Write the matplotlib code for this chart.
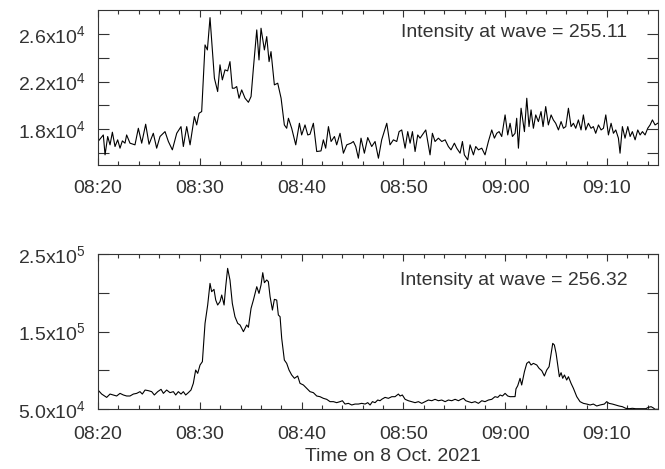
import numpy as np
import matplotlib.pyplot as plt
import matplotlib.dates as mdates
from matplotlib.ticker import FixedLocator, FixedFormatter

plt.rcParams['font.family'] = ['Liberation Sans', 'DejaVu Sans']
plt.rcParams['mathtext.fontset'] = 'custom'
plt.rcParams['mathtext.rm'] = 'Liberation Sans'
plt.rcParams['mathtext.default'] = 'regular'

# minutes after 08:20 UT, 8 Oct 2021
top_min = [0.0, 0.52, 0.69, 0.95, 1.18, 1.41, 1.67, 1.93, 2.16, 2.39, 2.65, 2.81,
           3.14, 3.63, 3.96, 4.29, 4.68, 5.01, 5.43, 5.76, 6.09, 6.58, 6.91, 7.30,
           7.73, 8.15, 8.38, 8.71, 9.04, 9.46, 9.69, 9.92, 10.18, 10.51, 10.74, 11.0,
           11.43, 11.75, 11.98, 12.21, 12.47, 12.73, 12.96, 13.19, 13.39, 13.62, 13.85,
           14.11, 14.44, 14.77, 15.03, 15.26, 15.59, 15.81, 16.01, 16.34, 16.57, 16.80,
           16.99, 17.32, 17.65, 17.98, 18.30, 18.53, 18.70, 19.02, 19.42, 19.78, 20.00,
           20.33, 20.60, 20.82, 21.15, 21.48, 21.90, 22.13, 22.36, 22.63, 22.89, 23.22,
           23.44, 23.77, 24.10, 24.43, 24.85, 25.08, 25.31, 25.57, 25.83, 26.16, 26.49,
           26.88, 27.21, 27.54, 27.86, 28.36, 28.68, 29.01, 29.34, 29.57, 29.83, 30.16,
           30.42, 30.65, 30.88, 31.14, 31.40, 31.63, 31.96, 32.19, 32.38, 32.61, 32.84,
           33.10, 33.43, 33.76, 34.09, 34.41, 34.67, 35.00, 35.23, 35.56, 35.79, 35.98,
           36.31, 36.54, 36.87, 37.10, 37.36, 37.69, 38.01, 38.34, 38.67, 38.93, 39.16,
           39.39, 39.65, 39.98, 40.24, 40.47, 40.70, 40.96, 41.12, 41.29, 41.55, 41.88,
           42.11, 42.33, 42.53, 42.76, 42.99, 43.25, 43.51, 43.71, 43.97, 44.23, 44.50,
           44.72, 44.95, 45.22, 45.48, 45.71, 45.94, 46.20, 46.46, 46.69, 46.92, 47.18,
           47.44, 47.67, 47.90, 48.16, 48.42, 48.65, 48.88, 49.15, 49.41, 49.64, 49.87,
           50.13, 50.39, 50.62, 50.85, 51.11, 51.27, 51.50, 51.76, 52.03, 52.26, 52.48,
           52.75, 53.01, 53.24, 53.47, 53.73, 53.99, 54.22, 54.45, 54.71, 54.97]
# intensity at 255.11, units of 1e4
top_int = [1.697, 1.752, 1.585, 1.739, 1.669, 1.775, 1.655, 1.711, 1.641, 1.702, 1.683, 1.752,
           1.683, 1.669, 1.808, 1.683, 1.842, 1.674, 1.766, 1.641, 1.739, 1.780, 1.697, 1.627,
           1.766, 1.822, 1.655, 1.822, 1.669, 1.906, 1.836, 1.934, 1.948, 2.507, 2.465, 2.736,
           2.228, 2.116, 2.340, 2.214, 2.298, 2.289, 2.367, 2.144, 2.144, 2.158, 2.060,
           2.130, 2.060, 2.026, 2.074, 2.312, 2.633, 2.381, 2.647, 2.465, 2.577, 2.367,
           2.451, 2.172, 2.186, 2.060, 1.836, 1.808, 1.892, 1.808, 1.669, 1.850, 1.752,
           1.836, 1.752, 1.758, 1.850, 1.613, 1.618, 1.711, 1.641, 1.822, 1.697, 1.739,
           1.669, 1.766, 1.599, 1.669, 1.683, 1.697, 1.655, 1.557, 1.725, 1.599, 1.730,
           1.655, 1.697, 1.557, 1.711, 1.850, 1.669, 1.711, 1.697, 1.780, 1.794, 1.641,
           1.780, 1.683, 1.780, 1.613, 1.752, 1.725, 1.766, 1.794, 1.697, 1.585, 1.766,
           1.697, 1.725, 1.697, 1.711, 1.655, 1.627, 1.683, 1.641, 1.599, 1.697, 1.585,
           1.543, 1.669, 1.585, 1.655, 1.627, 1.641, 1.585, 1.697, 1.794, 1.725, 1.766,
           1.780, 1.739, 1.920, 1.752, 1.850, 1.739, 1.766, 1.892, 1.641, 1.976, 1.780,
           2.060, 1.822, 1.962, 1.808, 1.920, 1.864, 1.948, 1.822, 1.990, 1.836, 1.920,
           1.878, 1.850, 1.794, 1.864, 1.808, 1.822, 1.976, 1.822, 1.850, 1.808, 1.878,
           1.794, 1.920, 1.794, 1.850, 1.808, 1.822, 1.766, 1.836, 1.794, 1.808, 1.920,
           1.752, 1.850, 1.766, 1.794, 1.725, 1.599, 1.822, 1.725, 1.822, 1.739, 1.780,
           1.711, 1.794, 1.752, 1.780, 1.752, 1.808, 1.836, 1.878, 1.836, 1.850]

bot_min = [0.0, 0.36, 0.85, 1.18, 1.51, 1.83, 2.16, 2.49, 2.81, 3.14, 3.47, 3.80,
           4.12, 4.35, 4.62, 4.94, 5.27, 5.53, 5.86, 6.19, 6.42, 6.74, 7.07, 7.40,
           7.63, 7.89, 8.15, 8.38, 8.61, 8.87, 9.13, 9.36, 9.59, 9.79, 10.02, 10.25,
           10.51, 10.77, 11.00, 11.16, 11.39, 11.56, 11.75, 11.98, 12.15, 12.38, 12.54,
           12.73, 12.96, 13.19, 13.45, 13.72, 13.95, 14.28, 14.60, 14.77, 15.03, 15.26,
           15.59, 15.81, 16.01, 16.18, 16.34, 16.57, 16.73, 16.90, 17.13, 17.32, 17.55,
           17.71, 17.88, 18.04, 18.30, 18.53, 18.76, 19.02, 19.29, 19.61, 19.84, 20.17,
           20.50, 20.82, 21.15, 21.48, 21.80, 22.13, 22.46, 22.79, 23.12, 23.44, 23.77,
           24.00, 24.26, 24.59, 24.92, 25.24, 25.57, 25.90, 26.23, 26.49, 26.72, 26.95,
           27.21, 27.47, 27.70, 27.86, 28.19, 28.52, 28.85, 29.17, 29.50, 29.67, 29.89,
           30.16, 30.48, 30.81, 31.14, 31.47, 31.79, 32.12, 32.45, 32.78, 33.10, 33.43,
           33.76, 34.09, 34.41, 34.74, 35.07, 35.40, 35.66, 35.89, 36.12, 36.38, 36.70,
           37.03, 37.36, 37.69, 38.01, 38.34, 38.67, 38.99, 39.26, 39.49, 39.72, 39.98,
           40.24, 40.47, 40.80, 40.96, 41.05, 41.22, 41.45, 41.61, 41.88, 42.11, 42.33,
           42.53, 42.76, 43.09, 43.32, 43.58, 43.84, 44.07, 44.30, 44.50, 44.66, 44.82,
           44.99, 45.15, 45.31, 45.48, 45.64, 45.81, 46.03, 46.20, 46.46, 46.69, 47.02,
           47.34, 47.67, 48.00, 48.33, 48.65, 48.98, 49.31, 49.73, 49.96, 50.19, 50.52,
           50.85, 51.17, 51.50, 51.83, 52.16, 52.48, 52.81, 53.14, 53.47, 53.80, 54.06,
           54.32, 54.55, 54.71, 54.97]
# intensity at 256.32, units of 1e5
bot_int = [0.745, 0.693, 0.650, 0.693, 0.681, 0.668, 0.702, 0.681, 0.668, 0.668, 0.693, 0.702,
           0.724, 0.693, 0.745, 0.737, 0.724, 0.681, 0.724, 0.754, 0.702, 0.745, 0.711, 0.724,
           0.681, 0.724, 0.693, 0.724, 0.681, 0.711, 0.745, 0.831, 1.003, 0.960, 1.068, 1.111,
           1.605, 1.842, 2.121, 2.014, 2.044, 1.906, 1.842, 1.885, 1.971, 1.842, 2.078,
           2.315, 2.164, 1.863, 1.691, 1.605, 1.584, 1.498, 1.584, 1.554, 1.799, 1.906,
           2.078, 1.992, 2.100, 2.259, 2.130, 2.165, 2.143, 1.949, 1.777, 1.915, 1.906,
           1.713, 1.691, 1.412, 1.132, 1.089, 1.003, 0.939, 0.896, 0.926, 0.831, 0.810,
           0.767, 0.724, 0.711, 0.668, 0.659, 0.638, 0.625, 0.595, 0.595, 0.582, 0.595,
           0.607, 0.564, 0.573, 0.552, 0.564, 0.564, 0.573, 0.564, 0.582, 0.552, 0.595,
           0.582, 0.616, 0.607, 0.625, 0.650, 0.638, 0.659, 0.659, 0.693, 0.668, 0.681,
           0.625, 0.607, 0.595, 0.582, 0.595, 0.573, 0.595, 0.616, 0.607, 0.625, 0.607,
           0.616, 0.595, 0.616, 0.607, 0.625, 0.607, 0.625, 0.638, 0.607, 0.595, 0.582,
           0.595, 0.573, 0.607, 0.595, 0.616, 0.625, 0.659, 0.650, 0.681, 0.668, 0.702,
           0.668, 0.659, 0.659, 0.660, 0.760, 0.800, 0.896, 0.810, 0.982, 1.089, 1.111,
           1.068, 1.089, 1.068, 1.025, 0.995, 0.926, 1.003, 1.046, 1.218, 1.347, 1.326,
           1.218, 1.068, 0.917, 0.969, 0.896, 0.939, 0.874, 0.917, 0.831, 0.767, 0.659,
           0.595, 0.573, 0.564, 0.552, 0.564, 0.539, 0.552, 0.564, 0.595, 0.573, 0.564,
           0.552, 0.539, 0.530, 0.509, 0.504, 0.509, 0.504, 0.504, 0.504, 0.504, 0.522,
           0.530, 0.513, 0.496, 0.496]

top_ticks = [1.6e4, 1.8e4, 2.0e4, 2.2e4, 2.4e4, 2.6e4]
top_labels = ['', '1.8x10$^4$', '', '2.2x10$^4$', '', '2.6x10$^4$']
bot_ticks = [5.0e4, 1.0e5, 1.5e5, 2.0e5, 2.5e5]
bot_labels = ['5.0x10$^4$', '', '1.5x10$^5$', '', '2.5x10$^5$']

t0 = np.datetime64('2021-10-08T08:20:00')


def to_time(minutes):
    return t0 + (np.asarray(minutes) * 60000).astype('timedelta64[ms]')


ink = '#333333'
fig = plt.figure(figsize=(6.65, 4.69), dpi=100)
ax1 = fig.add_axes([0.1474, 0.6482, 0.8421, 0.3305])
ax2 = fig.add_axes([0.1474, 0.1279, 0.8421, 0.3305])

panels = [
    (ax1, top_min, np.array(top_int) * 1e4, (1.5e4, 2.8e4), top_ticks, top_labels,
     'Intensity at wave = 255.11', 0.852, 11),
    (ax2, bot_min, np.array(bot_int) * 1e5, (5.0e4, 2.5e5), bot_ticks, bot_labels,
     'Intensity at wave = 256.32', 0.832, 12),
]

for ax, tm, val, ylim, ticks, labels, txt, ty, xpad in panels:
    ax.plot(to_time(tm), val, color='black', lw=0.8)
    ax.set_xlim(t0, t0 + np.timedelta64(55, 'm'))
    ax.set_ylim(*ylim)
    ax.xaxis.set_major_locator(mdates.MinuteLocator(byminute=range(0, 60, 10)))
    ax.xaxis.set_minor_locator(mdates.MinuteLocator(byminute=range(0, 60, 2)))
    ax.xaxis.set_major_formatter(mdates.DateFormatter('%H:%M'))
    ax.yaxis.set_major_locator(FixedLocator(ticks))
    ax.yaxis.set_major_formatter(FixedFormatter(labels))
    ax.tick_params(axis='x', which='major', direction='in', top=True, length=5,
                   width=0.8, color=ink, labelsize=14, labelcolor=ink, pad=xpad)
    ax.tick_params(axis='x', which='minor', direction='in', top=True, length=3,
                   width=0.8, color=ink)
    ax.tick_params(axis='y', which='major', direction='in', right=True, length=8,
                   width=0.8, color=ink, labelsize=14, labelcolor=ink, pad=9)
    ax.tick_params(axis='y', which='minor', left=False, right=False)
    for s in ax.spines.values():
        s.set_color(ink)
        s.set_linewidth(0.8)
    ax.text(0.945, ty, txt, transform=ax.transAxes, ha='right', va='center',
            fontsize=14, color=ink)

fig.text(393 / 665, 1 - 456 / 469, 'Time on 8 Oct. 2021', ha='center', va='center',
         fontsize=14, color=ink)

fig.savefig('out.png', dpi=100)
